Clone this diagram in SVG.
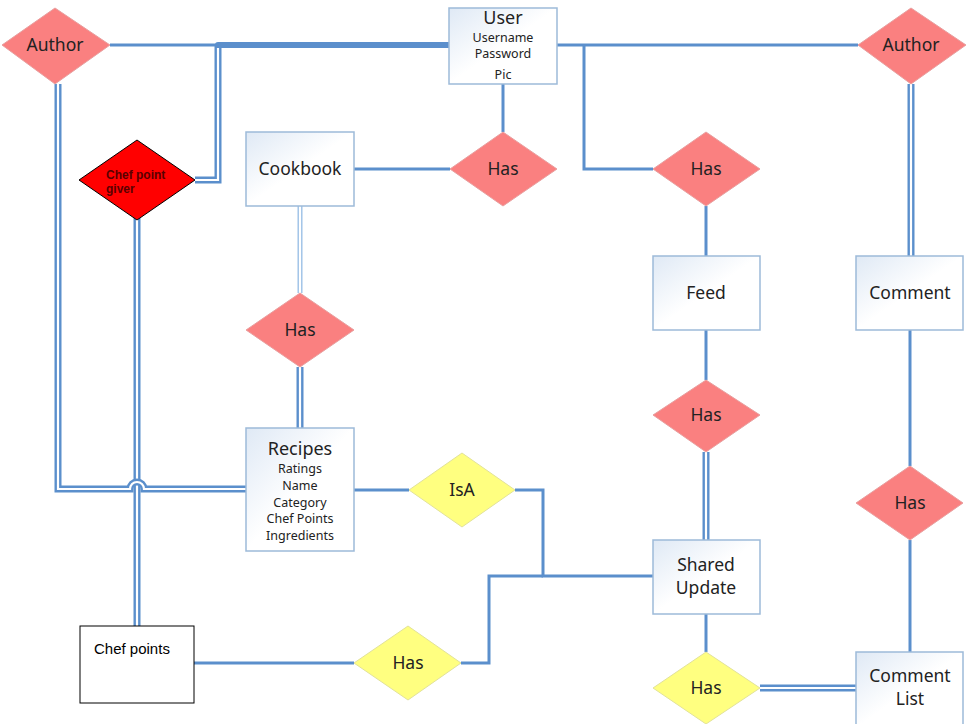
<svg xmlns="http://www.w3.org/2000/svg" width="968" height="724" viewBox="0 0 968 724">
<defs>
<linearGradient id="bg" x1="0" y1="0" x2="1" y2="1">
<stop offset="0" stop-color="#dfe9f5"/>
<stop offset="0.5" stop-color="#ffffff"/>
<stop offset="1" stop-color="#ffffff"/>
</linearGradient>
</defs>
<style>
.ln{fill:none;stroke:#5b8fcc;stroke-width:3}
.thick{fill:none;stroke:#5b8fcc;stroke-width:6;stroke-linecap:round}
.dbo{fill:none;stroke:#5b8fcc;stroke-width:7}
.dbi{fill:none;stroke:#ffffff;stroke-width:2.2}
.lto{fill:none;stroke:#9cc0e6;stroke-width:5}
.box{fill:url(#bg);stroke:#9dbad9;stroke-width:1.5}
.pink{fill:#fa8080;stroke:#e8a0a0;stroke-width:1}
.yel{fill:#ffff80;stroke:#e2e29a;stroke-width:1}
.t{font-family:"Noto Sans","Open Sans",sans-serif;fill:#222;text-anchor:middle}
.big{font-size:17.5px}
.ttl{font-size:18px}
.sm{font-size:12.5px}
.cg{font-family:"Liberation Sans",Arial,sans-serif;font-weight:bold;font-size:12px;fill:#5a0000}
</style>
<g id="connectors">
<line class="ln" x1="110" y1="45" x2="452" y2="45"/>
<path class="dbo" d="M195,180 H218 V45"/>
<path class="dbi" d="M195,180 H218 V48"/>
<line class="thick" x1="218" y1="45" x2="450" y2="45"/>
<line class="ln" x1="557" y1="45" x2="858" y2="45"/>
<path class="ln" d="M584,45 V169 H653"/>
<line class="ln" x1="503" y1="84" x2="503" y2="132"/>
<line class="ln" x1="354" y1="169" x2="450" y2="169"/>
<line class="ln" x1="706" y1="206" x2="706" y2="256"/>
<line class="dbo" x1="911" y1="84" x2="911" y2="256"/>
<line class="dbi" x1="911" y1="84" x2="911" y2="256"/>
<line class="lto" x1="300" y1="206" x2="300" y2="293"/>
<line class="dbi" x1="300" y1="206" x2="300" y2="293"/>
<line class="dbo" x1="300" y1="367" x2="300" y2="428"/>
<line class="dbi" x1="300" y1="367" x2="300" y2="428"/>
<line class="ln" x1="706" y1="330" x2="706" y2="380"/>
<line class="dbo" x1="706" y1="452" x2="706" y2="540"/>
<line class="dbi" x1="706" y1="452" x2="706" y2="540"/>
<line class="ln" x1="910" y1="330" x2="910" y2="466"/>
<line class="ln" x1="910" y1="540" x2="910" y2="652"/>
<line class="ln" x1="706" y1="614" x2="706" y2="652"/>
<line class="dbo" x1="760" y1="688" x2="856" y2="688"/>
<line class="dbi" x1="760" y1="688" x2="856" y2="688"/>
<line class="ln" x1="354" y1="490" x2="409" y2="490"/>
<path class="ln" d="M515,490 H543 V576 H653"/>
<line class="ln" x1="194" y1="663" x2="354" y2="663"/>
<path class="ln" d="M461,663 H489 V576 H543"/>
<line class="dbo" x1="137" y1="218" x2="137" y2="626"/>
<line class="dbi" x1="137" y1="218" x2="137" y2="626"/>
<path class="dbo" d="M58,84 V489 H130 a7,7 0 0 1 14,0 H246"/>
<path class="dbi" d="M58,84 V489 H130 a7,7 0 0 1 14,0 H246"/>
</g>
<g id="author-left">
<polygon class="pink" points="2,45 55,8 110,45 55,84"/>
<text class="t big" x="55" y="51">Author</text>
</g>
<g id="user">
<rect class="box" x="449" y="8" width="108" height="76"/>
<text class="t ttl" x="503" y="24">User</text>
<text class="t sm" x="503" y="42">Username</text>
<text class="t sm" x="503" y="58">Password</text>
<text class="t sm" x="503" y="79">Pic</text>
</g>
<g id="author-right">
<polygon class="pink" points="858,45 911,8 966,45 911,84"/>
<text class="t big" x="911" y="51">Author</text>
</g>
<g id="chef-point-giver">
<polygon points="79,180 137,140 195,180 137,220" fill="#ff0000" stroke="#000" stroke-width="1"/>
<text class="cg" x="106" y="179">Chef point</text>
<text class="cg" x="106" y="193">giver</text>
</g>
<g id="cookbook">
<rect class="box" x="246" y="132" width="108" height="74"/>
<text class="t big" x="300" y="175">Cookbook</text>
</g>
<g id="has-user">
<polygon class="pink" points="450,169 503,132 557,169 503,206"/>
<text class="t big" x="503" y="175">Has</text>
</g>
<g id="has-feed">
<polygon class="pink" points="653,169 706,132 760,169 706,206"/>
<text class="t big" x="706" y="175">Has</text>
</g>
<g id="feed">
<rect class="box" x="653" y="256" width="107" height="74"/>
<text class="t big" x="706" y="299">Feed</text>
</g>
<g id="comment">
<rect class="box" x="856" y="256" width="107" height="74"/>
<text class="t big" x="910" y="299">Comment</text>
</g>
<g id="has-recipes">
<polygon class="pink" points="246,330 300,293 354,330 300,367"/>
<text class="t big" x="300" y="336">Has</text>
</g>
<g id="has-shared">
<polygon class="pink" points="653,415 706,380 760,415 706,452"/>
<text class="t big" x="706" y="421">Has</text>
</g>
<g id="recipes">
<rect class="box" x="246" y="428" width="108" height="123"/>
<text class="t ttl" x="300" y="455">Recipes</text>
<text class="t sm" x="300" y="473">Ratings</text>
<text class="t sm" x="300" y="490">Name</text>
<text class="t sm" x="300" y="507">Category</text>
<text class="t sm" x="300" y="523">Chef Points</text>
<text class="t sm" x="300" y="540">Ingredients</text>
</g>
<g id="isa">
<polygon class="yel" points="409,490 462,453 515,490 462,527"/>
<text class="t big" x="462" y="496">IsA</text>
</g>
<g id="has-comment">
<polygon class="pink" points="856,503 910,466 963,503 910,540"/>
<text class="t big" x="910" y="509">Has</text>
</g>
<g id="shared-update">
<rect class="box" x="653" y="540" width="107" height="74"/>
<text class="t big" x="706" y="571">Shared</text>
<text class="t big" x="706" y="594">Update</text>
</g>
<g id="chef-points">
<rect x="80" y="626" width="114" height="77" fill="#fff" stroke="#000" stroke-width="1"/>
<text x="94" y="654" font-family="'Liberation Sans',Arial,sans-serif" font-size="15" fill="#000">Chef points</text>
</g>
<g id="has-chef">
<polygon class="yel" points="354,663 408,626 461,663 408,700"/>
<text class="t big" x="408" y="669">Has</text>
</g>
<g id="has-list">
<polygon class="yel" points="653,688 706,652 760,688 706,724"/>
<text class="t big" x="706" y="694">Has</text>
</g>
<g id="comment-list">
<rect class="box" x="856" y="652" width="107" height="76"/>
<text class="t big" x="910" y="682">Comment</text>
<text class="t big" x="910" y="705">List</text>
</g>
</svg>
